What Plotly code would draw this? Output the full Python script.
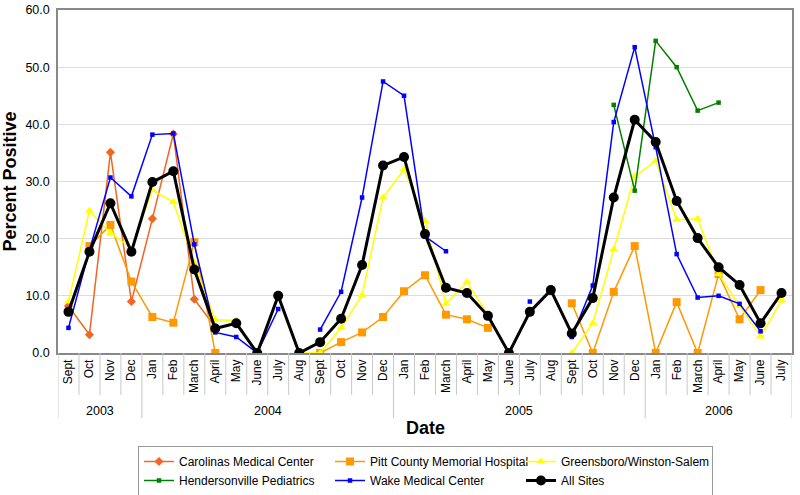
import plotly.graph_objects as go

months = ["Sept", "Oct", "Nov", "Dec",
          "Jan", "Feb", "March", "April", "May", "June", "July", "Aug", "Sept", "Oct", "Nov", "Dec",
          "Jan", "Feb", "March", "April", "May", "June", "July", "Aug", "Sept", "Oct", "Nov", "Dec",
          "Jan", "Feb", "March", "April", "May", "June", "July"]
years = ["2003"] * 4 + ["2004"] * 12 + ["2005"] * 12 + ["2006"] * 7

N = None
carolinas = [8.2, 3.2, 35.1, 9.0, 23.5, 38.3, 9.4, 4.5] + [N] * 27
pitt = [N, 18.7, 22.4, 12.5, 6.3, 5.3, 19.4, 0.0, N, N, N, N, 0.0, 1.9, 3.6, 6.3,
        10.8, 13.6, 6.7, 5.9, 4.4, N, N, N, 8.7, 0.0, 10.7, 18.7, 0.0, 8.9, 0.0, 13.8, 5.9, 11.0, N]
greensboro = [9.0, 24.9, 21.0, 18.3, 28.5, 26.4, 15.7, 5.8, 5.7, N, N, 0.0, 0.0, 4.4, 10.1, 27.2,
              32.1, 23.1, 8.6, 12.4, 6.7, N, N, N, 0.0, 5.2, 18.1, 30.9, 33.6, 23.3, 23.5, 13.8, 8.3, 2.9, 9.2]
hendersonville = [N] * 26 + [43.4, 28.4, 54.6, 50.0, 42.4, 43.8] + [N] * 3
wake = [4.4, 18.0, 30.7, 27.4, 38.2, 38.4, 19.0, 3.6, 2.8, 0.0, 7.7, N, 4.1, 10.7, 27.2, 47.5,
        45.0, 20.4, 17.8, N, N, N, 9.0, N, 2.8, 11.8, 40.4, 53.5, 36.0, 17.3, 9.7, 10.0, 8.6, 3.8, N]
all_sites = [7.2, 17.7, 26.2, 17.7, 29.9, 31.8, 14.6, 4.3, 5.2, 0.0, 10.0, 0.0, 1.9, 6.0, 15.4, 32.8,
             34.3, 20.8, 11.4, 10.5, 6.5, 0.0, 7.2, 11.0, 3.4, 9.6, 27.2, 40.8, 36.9, 26.6, 20.1, 15.0, 11.9, 5.2, 10.5]

y_ticks = [0, 10, 20, 30, 40, 50, 60]

x = list(range(len(months)))
FONT = "Liberation Sans, Arial, sans-serif"

fig = go.Figure()
series = [
    ("Carolinas Medical Center", carolinas, "#F26522", "diamond", 7, 1.5),
    ("Pitt County Memorial Hospital", pitt, "#FF9900", "square", 8, 1.5),
    ("Greensboro/Winston-Salem", greensboro, "#FFFF00", "triangle-up", 8, 1.5),
    ("Hendersonville Pediatrics", hendersonville, "#008000", "square", 4.5, 1.5),
    ("Wake Medical Center", wake, "#0000FF", "square", 4.5, 1.5),
    ("All Sites", all_sites, "#000000", "circle", 10, 3),
]
for name, vals, color, sym, msize, lw in series:
    fig.add_trace(go.Scatter(
        x=x, y=vals, name=name, mode="lines+markers",
        line=dict(color=color, width=lw),
        marker=dict(symbol=sym, size=msize, color=color, line=dict(width=0)),
        connectgaps=False,
    ))

plot_h = 343.0
plot_w = 734.0
shapes = []
for i in range(len(months) + 1):
    b = i - 0.5
    is_year = i == 0 or i == len(months) or years[i] != years[i - 1]
    shapes.append(dict(type="line", xref="x", yref="paper", x0=b, x1=b,
                       y0=0, y1=-(65 if is_year else 42) / plot_h,
                       line=dict(color="#c8c8c8", width=1)))

annotations = []
for yr in sorted(set(years)):
    idx = [i for i, v in enumerate(years) if v == yr]
    annotations.append(dict(x=sum(idx) / len(idx), y=-58 / plot_h, xref="x", yref="paper",
                            text=yr, showarrow=False, yanchor="middle",
                            font=dict(size=12.5, color="#000", family=FONT)))
annotations.append(dict(x=0.5, y=-75 / plot_h, xref="paper", yref="paper", text="<b>Date</b>",
                        showarrow=False, yanchor="middle",
                        font=dict(size=18, color="#000", family=FONT)))

fig.update_layout(
    width=800, height=495,
    margin=dict(l=58, r=8, t=10, b=142, autoexpand=False),
    paper_bgcolor="white", plot_bgcolor="white",
    font=dict(family=FONT, color="#000", size=12),
    showlegend=True,
    legend=dict(orientation="h", x=80 / plot_w, y=-93 / plot_h, xanchor="left", yanchor="top",
                entrywidth=146, entrywidthmode="pixels", bordercolor="#999999", borderwidth=1,
                bgcolor="white", font=dict(size=12, family=FONT), tracegroupgap=0,
                itemwidth=30),
    shapes=shapes,
    annotations=annotations,
)
fig.update_xaxes(range=[-0.5, len(months) - 0.5], tickmode="array", tickvals=x, ticktext=months,
                 tickangle=-90, ticks="", showgrid=False, zeroline=False,
                 showline=True, linecolor="#888888", linewidth=1.5, mirror=True,
                 tickfont=dict(size=12, family=FONT), automargin=False)
fig.update_yaxes(range=[0, 60], tickmode="array", tickvals=y_ticks, tickformat=".1f",
                 showgrid=True, gridcolor="#dcdcdc", gridwidth=1, zeroline=False,
                 showline=True, linecolor="#888888", linewidth=1.5, mirror=True,
                 ticks="", ticklabelstandoff=4, ticklabeloverflow="allow",
                 tickfont=dict(size=12.5, family=FONT), automargin=False,
                 title=dict(text="<b>Percent Positive</b>", font=dict(size=18, family=FONT), standoff=6))

fig.write_html("out.html", config={"displayModeBar": False},
               post_script="document.body.style.margin='0px';")
